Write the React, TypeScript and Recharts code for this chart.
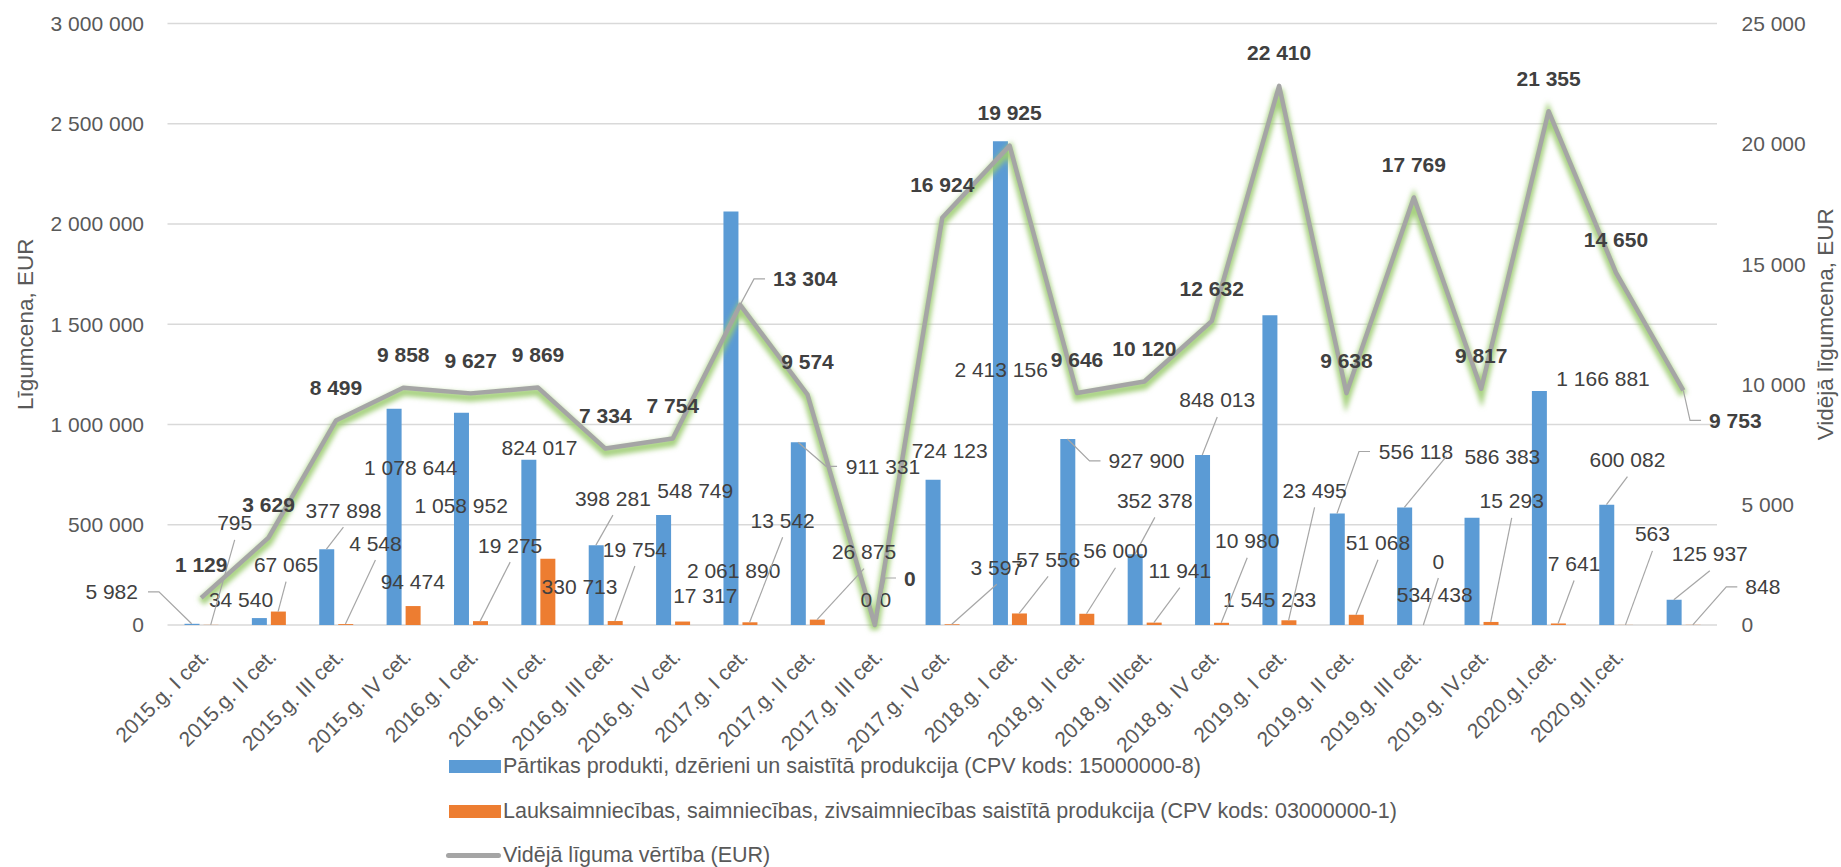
import React from 'react';
import { ComposedChart, Bar, Line, XAxis, YAxis, CartesianGrid } from 'recharts';

// ---------- data ----------
const categories = [
  '2015.g. I cet.', '2015.g. II cet.', '2015.g. III cet.', '2015.g. IV cet.',
  '2016.g. I cet.', '2016.g. II cet.', '2016.g. III cet.', '2016.g. IV cet.',
  '2017.g. I cet.', '2017.g. II cet.', '2017.g. III cet.', '2017.g. IV cet.',
  '2018.g. I cet.', '2018.g. II cet.', '2018.g. IIIcet.', '2018.g. IV cet.',
  '2019.g. I cet.', '2019.g. II cet.', '2019.g. III cet.', '2019.g. IV.cet.',
  '2020.g.I.cet.', '2020.g.II.cet.', '',
];

const foodValues = [
  5982, 34540, 377898, 1078644, 1058952, 824017, 398281, 548749, 2061890, 911331, 0, 724123,
  2413156, 927900, 352378, 848013, 1545233, 556118, 586383, 534438, 1166881, 600082, 125937,
];

const agriValues = [
  795, 67065, 4548, 94474, 19275, 330713, 19754, 17317, 13542, 26875, 0, 3597,
  57556, 56000, 11941, 10980, 23495, 51068, 0, 15293, 7641, 563, 848,
];

const avgValues = [
  1129, 3629, 8499, 9858, 9627, 9869, 7334, 7754, 13304, 9574, 0, 16924,
  19925, 9646, 10120, 12632, 22410, 9638, 17769, 9817, 21355, 14650, 9753,
];

const leftTicks = [0, 500000, 1000000, 1500000, 2000000, 2500000, 3000000];
const rightTicks = [0, 5000, 10000, 15000, 20000, 25000];

const seriesNames = [
  'Pārtikas produkti, dzērieni un saistītā produkcija (CPV kods: 15000000-8)',
  'Lauksaimniecības, saimniecības, zivsaimniecības saistītā produkcija (CPV kods: 03000000-1)',
  'Vidējā līguma vērtība (EUR)',
];
const leftTitle = 'Līgumcena, EUR';
const rightTitle = 'Vidējā līgumcena, EUR';

// ---------- label layout (offset from mark, leader type) ----------
// leader: 0 none, 1 straight from below label, 2 elbow from left, 3 elbow from right, 4 straight from left
const foodLabelLayout = [
  [-80, -32, 3], [-18, -19, 0], [17, -39, 1], [17, 59, 0], [0, 93, 0], [11, -12, 0],
  [17, -47, 1], [32, -24, 0], [3, 359, 0], [85, 24, 2], [1, -26, 0], [17, -29, 0],
  [1, 228, 0], [79, 22, 2], [20, -54, 1], [15, -55, 1], [0, 284, 0], [79, -62, 2],
  [98, -51, 4], [-37, 77, 0], [64, -13, 0], [21, -45, 1], [36, -46, 1],
];
const agriLabelLayout = [
  [24, -102, 1], [8, -47, 1], [30, -81, 1], [0, -25, 0], [30, -76, 1], [32, 28, 0],
  [20, -72, 1], [23, -26, 0], [33, -102, 1], [47, -68, 1], [1, -26, 0], [45, -57, 1],
  [29, -54, 1], [29, -63, 1], [26, -52, 1], [26, -82, 1], [26, -130, 1], [22, -72, 1],
  [15, -64, 1], [21, -121, 1], [16, -60, 1], [27, -91, 1], [70, -38, 2],
];
const avgLabelLayout = avgValues.map((_, i) =>
  i === 8 ? [65, -26, 2] : i === 10 ? [35, -47, 2] : i === 22 ? [52, 30, 2] : [0, -33, 0]
);

const data = categories.map((name, i) => ({
  name,
  food: foodValues[i],
  agri: agriValues[i],
  avg: avgValues[i],
}));

// ---------- styles ----------
const FONT = "'Liberation Sans', Arial, sans-serif";
const BLUE = '#5B9BD5';
const ORANGE = '#ED7D31';
const GRAY = '#A5A5A5';
const LABEL_COLOR = '#404040';
const AXIS_COLOR = '#595959';
const LEADER = '#A6A6A6';

const fmt = (v: number) => String(Math.round(v)).replace(/\B(?=(\d{3})+(?!\d))/g, ' ');
const textW = (s: string) => {
  let w = 0;
  for (const ch of s) w += ch === ' ' ? 5.84 : 11.68;
  return w;
};

function makeLabelDot(values: number[], layout: number[][], shift: number, bold: boolean, prefix: string) {
  return (p: any) => {
    const i = p.index;
    const key = `${prefix}-${i}`;
    if (p.cx == null || p.cy == null || isNaN(p.cx) || isNaN(p.cy)) return <g key={key} />;
    const bx = p.cx + shift;
    const by = p.cy;
    const [dx, dy, type] = layout[i];
    const lx = bx + dx;
    const ly = by + dy;
    const s = fmt(values[i]);
    const w = textW(s);
    let pts = '';
    if (type === 1) pts = `${lx},${ly + 17} ${bx},${by}`;
    else if (type === 2) {
      const l = lx - w / 2;
      pts = `${l - 8},${ly} ${l - 19},${ly} ${bx},${by}`;
    } else if (type === 3) {
      const r = lx + w / 2;
      pts = `${r + 10},${ly} ${r + 21},${ly} ${bx},${by}`;
    } else if (type === 4) {
      const l = lx - w / 2;
      pts = `${l - 18},${ly} ${bx},${by}`;
    }
    return (
      <g key={key}>
        {pts && <polyline points={pts} fill="none" stroke={LEADER} strokeWidth={1.2} />}
        <text
          x={lx}
          y={ly + 7.5}
          textAnchor="middle"
          fontSize={21}
          fontWeight={bold ? 700 : 400}
          fill={LABEL_COLOR}
          fontFamily={FONT}
        >
          {s}
        </text>
      </g>
    );
  };
}

const XTick = (props: any) => {
  const { x, y, payload } = props;
  if (!payload || !payload.value) return <g />;
  const ax = x + 9;
  const ay = y + 33;
  return (
    <text
      x={ax}
      y={ay}
      textAnchor="end"
      fontSize={21}
      fill={AXIS_COLOR}
      fontFamily={FONT}
      transform={`rotate(-45 ${ax} ${ay})`}
    >
      {payload.value}
    </text>
  );
};

const makeTitle = (title: string, dxFromLeft: number, fallback: { x: number; y: number; height: number }) => (props: any) => {
  const vb = props && props.viewBox ? props.viewBox : fallback;
  const cx = (vb.x ?? fallback.x) + dxFromLeft;
  const cy = (vb.y ?? fallback.y) + (vb.height ?? fallback.height) / 2;
  return (
    <text
      x={cx}
      y={cy}
      transform={`rotate(-90 ${cx} ${cy})`}
      textAnchor="middle"
      dominantBaseline="central"
      fontSize={22.5}
      fill={AXIS_COLOR}
      fontFamily={FONT}
    >
      {title}
    </text>
  );
};

const LegendRow = ({ top, swatch, text }: { top: number; swatch: React.ReactNode; text: string }) => (
  <div
    style={{
      position: 'absolute',
      left: 443,
      top: top - 14,
      height: 28,
      display: 'flex',
      alignItems: 'center',
      whiteSpace: 'nowrap',
    }}
  >
    <div style={{ width: 58, display: 'flex', alignItems: 'center', justifyContent: 'flex-end' }}>{swatch}</div>
    <span style={{ marginLeft: 2, fontSize: 21.5, color: AXIS_COLOR, fontFamily: FONT }}>{text}</span>
  </div>
);

export default function App() {
  return (
    <div
      style={{
        position: 'absolute',
        left: 0,
        top: 0,
        width: 1841,
        height: 867,
        overflow: 'hidden',
        background: '#fff',
        fontFamily: FONT,
      }}
    >
      <ComposedChart
        width={1841}
        height={867}
        data={data}
        margin={{ top: 23.5, right: 0, bottom: 0, left: 0 }}
        barGap={4}
      >
        <defs>
          <filter id="lineGlow" filterUnits="userSpaceOnUse" x="0" y="0" width="1841" height="867">
            <feOffset in="SourceGraphic" dx="0" dy="4" result="off" />
            <feGaussianBlur in="off" stdDeviation="2.8" />
          </filter>
        </defs>
        <CartesianGrid yAxisId="left" vertical={false} stroke="#D9D9D9" strokeWidth={1.5} />
        <XAxis
          dataKey="name"
          interval={0}
          tick={<XTick />}
          tickLine={false}
          axisLine={false}
          tickSize={0}
          tickMargin={0}
          height={242}
        />
        <YAxis
          yAxisId="left"
          orientation="left"
          width={167.5}
          domain={[0, 3000000]}
          ticks={leftTicks}
          interval={0}
          tickFormatter={fmt}
          tick={{ fontSize: 21, fill: AXIS_COLOR, fontFamily: FONT }}
          tickLine={false}
          axisLine={false}
          tickSize={0}
          tickMargin={23.5}
          label={makeTitle(leftTitle, 25, { x: 0, y: 23.5, height: 601.5 })}
        />
        <YAxis
          yAxisId="right"
          orientation="right"
          width={124}
          domain={[0, 25000]}
          ticks={rightTicks}
          interval={0}
          tickFormatter={fmt}
          tick={{ fontSize: 21, fill: AXIS_COLOR, fontFamily: FONT, textAnchor: 'start' }}
          tickLine={false}
          axisLine={false}
          tickSize={0}
          tickMargin={24.5}
          label={makeTitle(rightTitle, 108, { x: 1717, y: 23.5, height: 601.5 })}
        />
        <Bar yAxisId="left" dataKey="food" fill={BLUE} barSize={15} isAnimationActive={false} />
        <Bar yAxisId="left" dataKey="agri" fill={ORANGE} barSize={15} isAnimationActive={false} />
        <Line
          yAxisId="right"
          dataKey="avg"
          stroke="#9DCC72"
          strokeOpacity={0.9}
          strokeWidth={8.5}
          dot={false}
          activeDot={false}
          filter="url(#lineGlow)"
          isAnimationActive={false}
          legendType="none"
        />
        <Line
          yAxisId="right"
          dataKey="avg"
          stroke={GRAY}
          strokeWidth={4.5}
          strokeLinejoin="round"
          dot={false}
          activeDot={false}
          isAnimationActive={false}
        />
        <Line
          yAxisId="left"
          dataKey="food"
          stroke="none"
          strokeWidth={0}
          dot={makeLabelDot(foodValues, foodLabelLayout, -9.5, false, 'fl')}
          activeDot={false}
          isAnimationActive={false}
          legendType="none"
        />
        <Line
          yAxisId="left"
          dataKey="agri"
          stroke="none"
          strokeWidth={0}
          dot={makeLabelDot(agriValues, agriLabelLayout, 9.5, false, 'al')}
          activeDot={false}
          isAnimationActive={false}
          legendType="none"
        />
        <Line
          yAxisId="right"
          dataKey="avg"
          stroke="none"
          strokeWidth={0}
          dot={makeLabelDot(avgValues, avgLabelLayout, 0, true, 'vl')}
          activeDot={false}
          isAnimationActive={false}
          legendType="none"
        />
      </ComposedChart>

      <LegendRow
        top={766}
        swatch={<div style={{ width: 52, height: 13, background: BLUE }} />}
        text={seriesNames[0]}
      />
      <LegendRow
        top={811}
        swatch={<div style={{ width: 52, height: 13, background: ORANGE }} />}
        text={seriesNames[1]}
      />
      <LegendRow
        top={855}
        swatch={<div style={{ width: 55, height: 5, borderRadius: 3, background: GRAY }} />}
        text={seriesNames[2]}
      />
    </div>
  );
}
